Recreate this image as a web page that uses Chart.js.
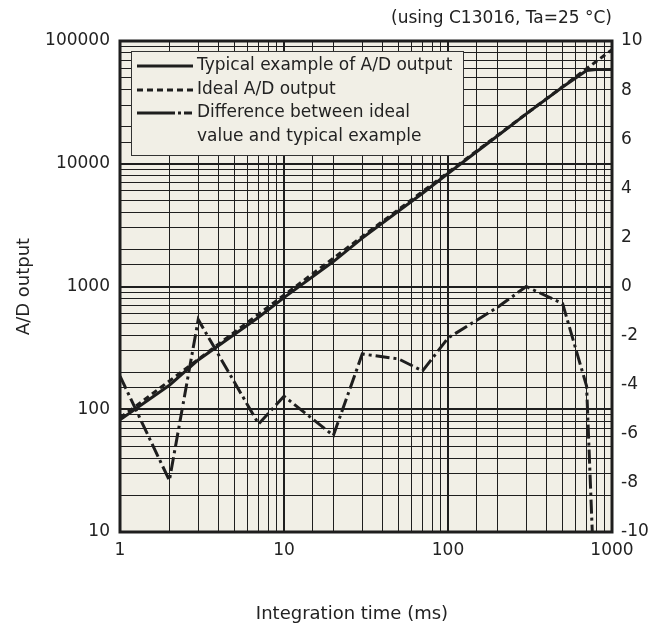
<!DOCTYPE html>
<html>
<head>
<meta charset="utf-8">
<script src="https://cdn.jsdelivr.net/npm/chart.js@4/dist/chart.umd.min.js"></script>
<style>
  html, body { margin: 0; padding: 0; background: #fff; }
  #wrap { position: relative; width: 662px; height: 628px; }
</style>
</head>
<body>
<div id="wrap"><canvas id="chartAD"></canvas></div>
<script>
// Integration time (ms) and counts
const idealTime = [1, 1000];
const idealCounts = [85, 85000];

const typicalTime = [1, 2, 3, 7, 10, 20, 30, 50, 70, 100, 200, 300, 500, 700, 800, 1000];
const typicalCounts = [82, 157, 252, 562, 812, 1597, 2480, 4125, 5745, 8320, 16850, 25500, 42200, 57500, 58500, 58500];

// difference between ideal value and typical example (%), right axis
const diffTime = [1, 2, 3, 7, 10, 20, 30, 50, 70, 100, 200, 300, 500, 700, 800];
const diffPercent = [-3.65, -7.9, -1.35, -5.6, -4.47, -6.07, -2.75, -2.95, -3.44, -2.1, -0.85, 0, -0.7, -4.06, -14];

const legendLabels = [
  "Typical example of A/D output",
  "Ideal A/D output",
  "Difference between ideal",
  "value and typical example"
];
const noteText = "(using C13016, Ta=25 °C)";
const xTitle = "Integration time (ms)";

const INK = "#1e1e1e";
const PAPER = "#f1efe6";

const toPoints = (xs, ys) => xs.map((x, i) => ({ x: x, y: ys[i] }));
const isDecade = v => Math.abs(Math.log10(v) - Math.round(Math.log10(v))) < 1e-9;

Chart.defaults.font.family = "'DejaVu Sans', sans-serif";
Chart.defaults.font.size = 17;
Chart.defaults.color = "#222";

// paper background, frame, note, x title and legend box
const paperPlugin = {
  id: "paper",
  beforeDraw(chart) {
    const { ctx, chartArea: a } = chart;
    ctx.save();
    ctx.fillStyle = PAPER;
    ctx.fillRect(a.left, a.top, a.right - a.left, a.bottom - a.top);
    ctx.restore();
  },
  afterDraw(chart) {
    const { ctx, chartArea: a } = chart;
    ctx.save();
    // frame
    ctx.strokeStyle = INK;
    ctx.lineWidth = 3;
    ctx.strokeRect(a.left, a.top, a.right - a.left, a.bottom - a.top);

    // note top right
    ctx.fillStyle = "#222";
    ctx.font = "17px 'DejaVu Sans', sans-serif";
    ctx.textAlign = "right";
    ctx.textBaseline = "middle";
    ctx.fillText(noteText, a.right, 19);

    // x axis title (sits a bit left of the plot centre in the original)
    ctx.font = "18px 'DejaVu Sans', sans-serif";
    ctx.textAlign = "center";
    ctx.fillText(xTitle, 352, 614);

    // legend box
    const bx = 131, by = 51, bw = 332, bh = 104;
    ctx.fillStyle = PAPER;
    ctx.fillRect(bx, by, bw, bh);
    ctx.strokeStyle = "#333";
    ctx.lineWidth = 1;
    ctx.strokeRect(bx + 0.5, by + 0.5, bw, bh);

    const rows = [66, 90, 113, 137];
    const dashes = [[], [6, 4], [38, 3, 3, 3, 8]];
    ctx.strokeStyle = INK;
    ctx.lineWidth = 3;
    dashes.forEach((d, i) => {
      ctx.setLineDash(d);
      ctx.beginPath();
      ctx.moveTo(137, rows[i]);
      ctx.lineTo(193, rows[i]);
      ctx.stroke();
    });
    ctx.setLineDash([]);
    ctx.font = "17px 'DejaVu Sans', sans-serif";
    ctx.textAlign = "left";
    ctx.fillStyle = "#222";
    legendLabels.forEach((t, i) => ctx.fillText(t, 197, rows[i]));
    ctx.restore();
  }
};

const gridWidth = ctx => (ctx.tick && isDecade(ctx.tick.value) ? 2 : 1);

new Chart(document.getElementById("chartAD"), {
  type: "line",
  data: {
    datasets: [
      {
        label: legendLabels[0],
        data: toPoints(typicalTime, typicalCounts),
        borderColor: INK,
        borderWidth: 3,
        pointRadius: 0,
        tension: 0,
        yAxisID: "y"
      },
      {
        label: legendLabels[1],
        data: toPoints(idealTime, idealCounts),
        borderColor: INK,
        borderWidth: 3,
        borderDash: [6, 4],
        pointRadius: 0,
        tension: 0,
        yAxisID: "y"
      },
      {
        label: legendLabels[2] + " " + legendLabels[3],
        data: toPoints(diffTime, diffPercent),
        borderColor: INK,
        borderWidth: 3,
        borderDash: [14, 4, 3, 4],
        pointRadius: 0,
        tension: 0,
        yAxisID: "y2"
      }
    ]
  },
  options: {
    responsive: true,
    maintainAspectRatio: false,
    animation: false,
    layout: { padding: { top: 41, left: 0, right: 0, bottom: 0 } },
    plugins: {
      legend: { display: false },
      tooltip: { enabled: false }
    },
    scales: {
      x: {
        type: "logarithmic",
        min: 1,
        max: 1000,
        border: { display: false },
        grid: { color: INK, lineWidth: gridWidth, drawTicks: false },
        ticks: {
          autoSkip: false,
          maxRotation: 0,
          padding: 8,
          callback: v => (isDecade(v) ? String(v) : "")
        },
        afterFit: s => { s.height = 96; }
      },
      y: {
        type: "logarithmic",
        position: "left",
        min: 10,
        max: 100000,
        border: { display: false },
        grid: { color: INK, lineWidth: gridWidth, drawTicks: false },
        ticks: {
          autoSkip: false,
          padding: 10,
          callback: v => (isDecade(v) ? String(v) : "")
        },
        title: {
          display: true,
          text: "A/D output",
          font: { size: 18 },
          padding: { top: 14, bottom: 0 }
        },
        afterFit: s => { s.width = 120; }
      },
      y2: {
        type: "linear",
        position: "right",
        min: -10,
        max: 10,
        border: { display: false },
        grid: { display: false, drawTicks: false },
        ticks: { stepSize: 2, padding: 9 },
        afterFit: s => { s.width = 50; }
      }
    }
  },
  plugins: [paperPlugin]
});
</script>
</body>
</html>
